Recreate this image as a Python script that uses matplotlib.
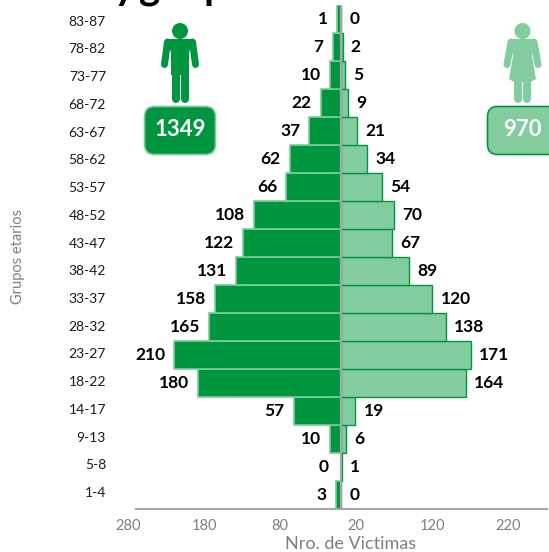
import matplotlib
matplotlib.use('Agg')
import matplotlib.pyplot as plt
from matplotlib.patches import Circle, Polygon, FancyBboxPatch

plt.rcParams['font.family'] = ['Lato', 'DejaVu Sans']

grupos = ['1-4', '5-8', '9-13', '14-17', '18-22', '23-27', '28-32', '33-37', '38-42',
          '43-47', '48-52', '53-57', '58-62', '63-67', '68-72', '73-77', '78-82', '83-87']
hombres = [3, 0, 10, 57, 180, 210, 165, 158, 131, 122, 108, 66, 62, 37, 22, 10, 7, 1]
mujeres = [0, 1, 6, 19, 164, 171, 138, 120, 89, 67, 70, 54, 34, 21, 9, 5, 2, 0]
x_ticks = [-280, -180, -80, 20, 120, 220]
x_labels = ['280', '180', '80', '20', '120', '220']
total_h = '1349'
total_m = '970'

verde = '#009640'
verde_claro = '#83cc9f'
borde_claro = '#7fcb9e'
gris = '#7f7f7f'
# the male side of the original does not follow the tick scale exactly:
# slightly wider and starting a few px left of the centre line
esc_h = 1.026
base_h = 4

W, H = 549, 552
fig = plt.figure(figsize=(W / 100, H / 100), dpi=100)
# axes start left of the axis line so the 280 tick label can still be drawn
ax = fig.add_axes([115 / W, 1 - 509 / H, 432 / W, 504 / H])
px = 0.76

y = list(range(len(grupos)))
largo_h = [v * esc_h + base_h for v in hombres]
ax.barh(y, [-l if v else 0 for l, v in zip(largo_h, hombres)], height=0.97, color=verde,
        edgecolor=borde_claro, linewidth=1.2)
ax.barh(y, mujeres, height=0.97, color=verde_claro, edgecolor=verde, linewidth=1.0)
ax.axvline(0, color='#a6a6a6', linewidth=1.6)

for i in y:
    ax.annotate(str(hombres[i]), (-largo_h[i], i), xytext=(-6.5, 0), textcoords='offset points',
                ha='right', va='center', fontsize=12.5, fontweight='bold', color='black')
    ax.annotate(str(mujeres[i]), (mujeres[i], i), xytext=(6, 0), textcoords='offset points',
                ha='left', va='center', fontsize=12.5, fontweight='bold', color='black')

for s in ['top', 'left', 'right']:
    ax.spines[s].set_visible(False)
ax.spines['bottom'].set_color('#a6a6a6')
ax.spines['bottom'].set_linewidth(1.5)
# age labels have a slightly tighter pitch than the bars
ax.set_yticks([0.107 + 0.99 * i for i in y])
ax.set_yticklabels(grupos, fontsize=10, color='#1a1a1a')
ax.tick_params(axis='y', length=0, pad=6.5)
ax.set_xticks(x_ticks)
ax.set_xticklabels(x_labels, fontsize=10.5, color=gris)
ax.tick_params(axis='x', length=0, pad=7)
ax.set_xlim((115 - 341) / px, (547 - 341) / px)
ax.set_ylim(-0.5, 17.5)
ax.spines['bottom'].set_bounds((136 - 341) / px, (547 - 341) / px)
ax.set_xlabel('Nro. de Victimas', fontsize=13, color=gris)
ax.xaxis.set_label_coords((351 - 115) / 432, -(544 - 509) / 504, transform=ax.transAxes)
ax.xaxis.label.set_va('center')
fig.text(18 / W, 1 - 257 / H, 'Grupos etarios', rotation=90, ha='center', va='center', fontsize=10.5, color=gris)

# overlay in pixel coords for the pictograms and boxes
ov = fig.add_axes([0, 0, 1, 1], facecolor='none')
ov.set_xlim(0, W)
ov.set_ylim(H, 0)
ov.axis('off')


def trazo(xs, ys, ancho, color):
    ov.plot(xs, ys, color=color, linewidth=ancho * 0.72, solid_capstyle='round', solid_joinstyle='round')


# man
ov.add_patch(Circle((180, 31), 8, color=verde, lw=0))
ov.add_patch(Polygon([(166, 39), (194, 39), (189, 52), (189, 75), (171, 75), (171, 52)], closed=True, color=verde, lw=0))
trazo([167.5, 164.5], [42, 64.5], 7, verde)
trazo([192.5, 195.5], [42, 64.5], 7, verde)
trazo([175.5, 175.5], [70, 99], 8, verde)
trazo([184.5, 184.5], [70, 99], 8, verde)

# woman
ov.add_patch(Circle((522.5, 31), 8, color=verde_claro, lw=0))
ov.add_patch(Polygon([(509, 39), (536, 39), (532, 56), (536, 79), (531, 82), (514, 82), (509, 79), (513, 56)],
                     closed=True, color=verde_claro, lw=0))
trazo([511, 507], [42, 64.5], 7, verde_claro)
trazo([534, 538], [42, 64.5], 7, verde_claro)
trazo([518, 518], [80, 99], 8, verde_claro)
trazo([527, 527], [80, 99], 8, verde_claro)

# total boxes
ov.add_patch(FancyBboxPatch((152, 114), 56, 33, boxstyle='round,pad=7.5,rounding_size=10',
                            facecolor=verde, edgecolor=borde_claro, linewidth=1.2))
ov.add_patch(FancyBboxPatch((495, 114), 70, 33, boxstyle='round,pad=7.5,rounding_size=10',
                            facecolor=verde_claro, edgecolor=verde, linewidth=1.2))
ov.text(180, 129.5, total_h, color='white', fontsize=16, fontweight='bold', ha='center', va='center')
ov.text(522, 129.5, total_m, color='white', fontsize=16, fontweight='bold', ha='center', va='center')

# title cut off by the top edge, only descenders are visible
for letra, xl in [('y', 124), ('g', 150), ('p', 215)]:
    ov.text(xl, -1, letra, fontsize=29, fontweight='bold', color='black', ha='center', va='baseline', clip_on=False)

fig.savefig('out.png', dpi=100)
